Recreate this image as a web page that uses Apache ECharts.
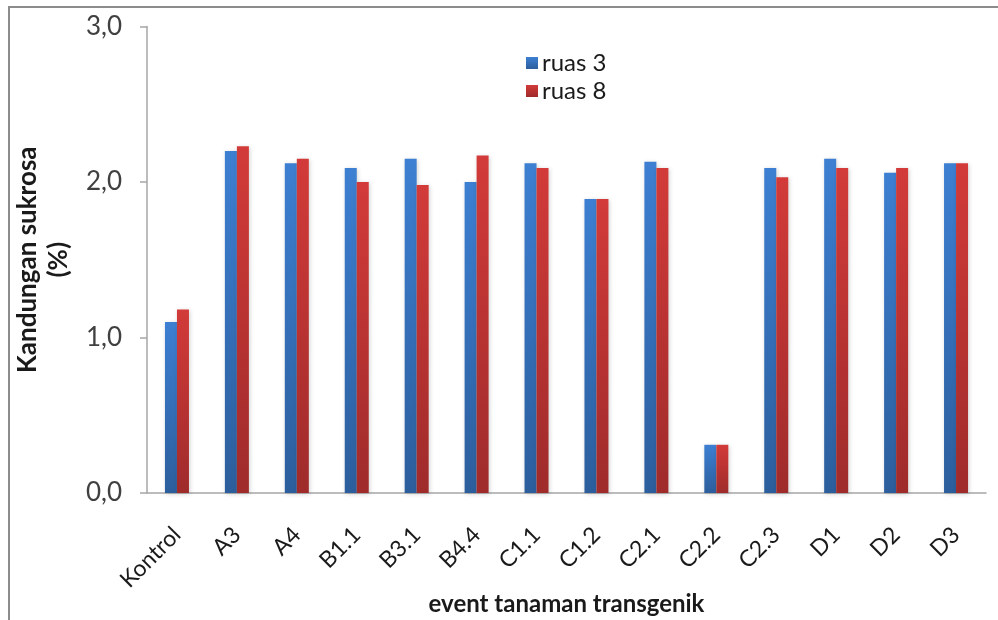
<!DOCTYPE html>
<html>
<head>
<meta charset="utf-8">
<script src="https://cdn.jsdelivr.net/npm/echarts@6/dist/echarts.min.js"></script>
<style>
  html, body { margin: 0; padding: 0; background: #ffffff; }
  #chart { width: 998px; height: 620px; }
</style>
</head>
<body>
<div id="chart"></div>
<script>
// Sucrose content (%) per transgenic event, measured at internode 3 and internode 8
const categories = ['Kontrol', 'A3', 'A4', 'B1.1', 'B3.1', 'B4.4', 'C1.1', 'C1.2', 'C2.1', 'C2.2', 'C2.3', 'D1', 'D2', 'D3'];
const ruas3 = [1.10, 2.20, 2.12, 2.09, 2.15, 2.00, 2.12, 1.89, 2.13, 0.31, 2.09, 2.15, 2.06, 2.12];
const ruas8 = [1.18, 2.23, 2.15, 2.00, 1.98, 2.17, 2.09, 1.89, 2.09, 0.31, 2.03, 2.09, 2.09, 2.12];
const seriesNames = ['ruas 3', 'ruas 8'];
const yTicks = [0, 1, 2, 3];
const yTickLabels = ['0,0', '1,0', '2,0', '3,0'];

const FONT = 'Lato, "Open Sans", sans-serif';

function barGradient(top, bottom) {
  return new echarts.graphic.LinearGradient(0, 0, 0, 1, [
    { offset: 0, color: top },
    { offset: 1, color: bottom }
  ]);
}

const chart = echarts.init(document.getElementById('chart'), null, { renderer: 'canvas' });

chart.setOption({
  animation: false,
  backgroundColor: '#ffffff',
  graphic: [{
    type: 'rect',
    shape: { x: 9, y: 7, width: 1200, height: 1000 },
    style: { fill: 'none', stroke: '#8c8c8c', lineWidth: 2 },
    silent: true,
    z: -1
  }],
  grid: { left: 147, right: 12, top: 26.5, bottom: 127, containLabel: false, outerBoundsMode: 'none' },
  legend: {
    orient: 'vertical',
    left: 521,
    top: 46,
    itemWidth: 12,
    itemHeight: 12,
    itemGap: 4,
    icon: 'rect',
    textStyle: { fontFamily: FONT, fontSize: 24, color: '#1a1a1a', padding: [0, 0, 0, -1] },
    data: seriesNames
  },
  xAxis: {
    type: 'category',
    data: categories,
    name: 'event tanaman transgenik',
    nameLocation: 'middle',
    nameGap: 99,
    nameMoveOverlap: false,
    nameTextStyle: { fontFamily: FONT, fontSize: 24, fontWeight: 'bold', color: '#1a1a1a' },
    axisLine: { lineStyle: { color: '#a6a6a6', width: 1.5 } },
    axisTick: { show: false },
    axisLabel: {
      rotate: 45,
      margin: 38,
      interval: 0,
      fontFamily: FONT,
      fontSize: 23,
      color: '#1a1a1a'
    }
  },
  yAxis: {
    type: 'value',
    min: 0,
    max: 3,
    interval: 1,
    name: 'Kandungan sukrosa\n(%)',
    nameLocation: 'middle',
    nameRotate: 90,
    nameGap: 73,
    nameMoveOverlap: false,
    nameTextStyle: { fontFamily: FONT, fontSize: 26, fontWeight: 'bold', color: '#1a1a1a', lineHeight: 31 },
    axisLine: { show: true, lineStyle: { color: '#a6a6a6', width: 1.5 } },
    axisTick: { show: true, length: 7, lineStyle: { color: '#a6a6a6', width: 1.5 } },
    splitLine: { show: false },
    axisLabel: {
      margin: 25,
      fontFamily: FONT,
      fontSize: 26,
      color: '#404040',
      formatter: function (v) {
        const i = yTicks.indexOf(v);
        return i >= 0 ? yTickLabels[i] : '';
      }
    }
  },
  series: [
    {
      name: seriesNames[0],
      type: 'bar',
      data: ruas3,
      barWidth: 12,
      barGap: '0%',
      itemStyle: {
        color: barGradient('#3d7fd2', '#2c5e9c'),
        shadowColor: 'rgba(0,0,0,0.18)',
        shadowBlur: 4,
        shadowOffsetX: 1,
        shadowOffsetY: 1
      }
    },
    {
      name: seriesNames[1],
      type: 'bar',
      data: ruas8,
      barWidth: 12,
      barGap: '0%',
      itemStyle: {
        color: barGradient('#d23b39', '#9f2b2b'),
        shadowColor: 'rgba(0,0,0,0.18)',
        shadowBlur: 4,
        shadowOffsetX: 1,
        shadowOffsetY: 1
      }
    }
  ]
});
</script>
</body>
</html>
